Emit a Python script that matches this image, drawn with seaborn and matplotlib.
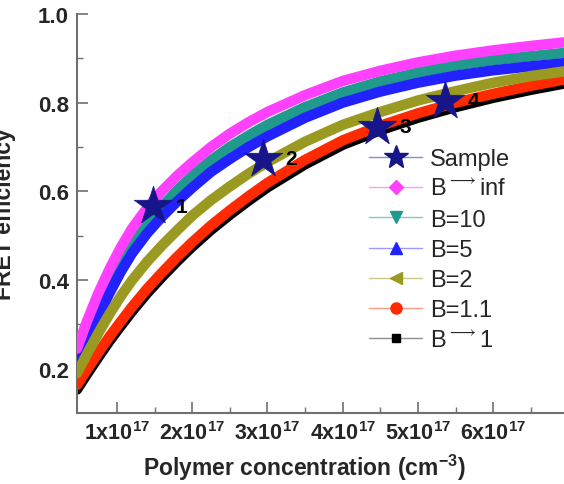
import matplotlib
matplotlib.use("Agg")
import matplotlib.pyplot as plt
from matplotlib.lines import Line2D
from matplotlib.ticker import FixedLocator
import seaborn as sns
import pandas as pd

# ---- data (x in units of 1e17 cm^-3) ----
conc = [0.47, 0.6, 0.75, 0.9, 1.05, 1.2, 1.4, 1.6, 1.8, 2.0, 2.25, 2.5, 2.75, 3.0,
        3.5, 4.0, 4.5, 5.0, 5.5, 6.0, 6.5, 7.0]
e_b_inf = [0.245, 0.306, 0.369, 0.424, 0.473, 0.516, 0.562, 0.601, 0.635, 0.665, 0.700,
           0.730, 0.756, 0.779, 0.817, 0.849, 0.872, 0.891, 0.906, 0.918, 0.928, 0.937]
e_b10 = [0.210, 0.268, 0.330, 0.385, 0.434, 0.477, 0.525, 0.566, 0.602, 0.635, 0.670,
         0.700, 0.726, 0.750, 0.790, 0.823, 0.848, 0.868, 0.884, 0.896, 0.905, 0.913]
e_b5 = [0.200, 0.256, 0.316, 0.370, 0.418, 0.460, 0.505, 0.543, 0.577, 0.608, 0.644,
        0.673, 0.700, 0.724, 0.766, 0.800, 0.825, 0.845, 0.861, 0.873, 0.882, 0.890]
e_b2 = [0.190, 0.232, 0.279, 0.323, 0.363, 0.399, 0.441, 0.478, 0.512, 0.545, 0.580,
        0.611, 0.640, 0.666, 0.712, 0.750, 0.779, 0.805, 0.826, 0.845, 0.860, 0.872]
e_b11 = [0.163, 0.197, 0.235, 0.272, 0.306, 0.339, 0.380, 0.417, 0.452, 0.485, 0.523,
         0.557, 0.589, 0.619, 0.671, 0.715, 0.748, 0.776, 0.800, 0.820, 0.838, 0.854]
e_b1 = [0.153, 0.187, 0.225, 0.262, 0.296, 0.329, 0.370, 0.407, 0.442, 0.475, 0.513,
        0.547, 0.579, 0.609, 0.661, 0.705, 0.738, 0.766, 0.790, 0.811, 0.829, 0.845]

sample_x = [1.48, 2.94, 4.46, 5.36]
sample_y = [0.566, 0.674, 0.746, 0.804]
sample_labels = ["1", "2", "3", "4"]

xtick_vals = [1, 2, 3, 4, 5, 6]
xtick_labels = [r"1x10$^{\mathbf{17}}$", r"2x10$^{\mathbf{17}}$", r"3x10$^{\mathbf{17}}$",
                r"4x10$^{\mathbf{17}}$", r"5x10$^{\mathbf{17}}$", r"6x10$^{\mathbf{17}}$"]
ytick_vals = [0.2, 0.4, 0.6, 0.8, 1.0]
ytick_labels = ["0.2", "0.4", "0.6", "0.8", "1.0"]

series_names = [r"B$^{\longrightarrow}$inf", "B=10", "B=5", "B=2", "B=1.1",
                r"B$^{\longrightarrow}$1"]
series_vals = [e_b_inf, e_b10, e_b5, e_b2, e_b11, e_b1]
colors = ["#ff40ff", "#1f9a8c", "#2222ff", "#9a9a22", "#ff2a00", "#000000"]
light_colors = ["#ff9cff", "#86c6bd", "#9a9aff", "#c8c88a", "#ff9a88", "#909090"]
markers = ["D", "v", "^", "<", "o", "s"]
msizes = [7, 8, 8, 8, 8, 6]

sns.set_theme(style="ticks")
plt.rcParams["font.family"] = ["Liberation Sans", "DejaVu Sans"]
plt.rcParams["mathtext.fontset"] = "custom"
plt.rcParams["mathtext.rm"] = "Liberation Sans"
plt.rcParams["mathtext.bf"] = "Liberation Sans:bold"

fig = plt.figure(figsize=(5.64, 4.85), dpi=100)
ax = fig.add_axes([77 / 564, 1 - 414 / 485, 1 - 77 / 564, (414 - 15) / 485])

# draw curves (bottom first): B->1, B=1.1, B=10, B=5, B=2, B->inf
order = [5, 4, 1, 2, 3, 0]
for k, i in enumerate(order):
    df = pd.DataFrame({"x": conc, "y": series_vals[i]})
    sns.lineplot(data=df, x="x", y="y", ax=ax, color=colors[i], linewidth=7.5,
                 estimator=None, sort=True, zorder=2 + k)

star_col = "#16168a"
sdf = pd.DataFrame({"x": sample_x, "y": sample_y})
sns.scatterplot(data=sdf, x="x", y="y", ax=ax, marker="*", s=850, color=star_col,
                edgecolor=star_col, linewidth=0.5, zorder=10)
for sx, sy, lab in zip(sample_x, sample_y, sample_labels):
    ax.annotate(lab, (sx, sy), xytext=(16, 0), textcoords="offset points",
                fontsize=15, fontweight="bold", color="black", va="center", ha="left",
                zorder=11)

ax.set_xlim(0.47, 6.94)
ax.set_ylim(0.1, 1.0)
ax.set_xticks(xtick_vals)
ax.set_xticklabels(xtick_labels, fontsize=15.5, fontweight="bold")
ax.set_yticks(ytick_vals)
ax.set_yticklabels(ytick_labels, fontsize=16, fontweight="bold")
ax.xaxis.set_minor_locator(FixedLocator([1.5, 2.5, 3.5, 4.5, 5.5, 6.5]))
ax.yaxis.set_minor_locator(FixedLocator([0.3, 0.5, 0.7, 0.9]))

spine_col = "#707070"
for s in ["top", "right"]:
    ax.spines[s].set_visible(False)
for s in ["left", "bottom"]:
    ax.spines[s].set_color(spine_col)
    ax.spines[s].set_linewidth(1.5)
ax.tick_params(which="major", direction="in", length=8, width=1.2, color=spine_col)
ax.tick_params(which="minor", direction="in", length=4, width=1.0, color=spine_col)
ax.tick_params(axis="y", which="major", pad=6)
ax.tick_params(axis="x", which="major", pad=5.5)

ax.set_xlabel(r"Polymer concentration (cm$^{\mathbf{-3}}$)", fontsize=16.5, fontweight="bold")
ax.xaxis.set_label_coords(0.466, -0.098)
ax.set_ylabel("FRET efficiency", fontsize=16.5, fontweight="bold")
ax.yaxis.set_label_coords(-0.125, 0.5)

# legend
handles = [Line2D([0], [0], color="#8a8ad0", lw=1, marker="*", markersize=18,
                  markerfacecolor=star_col, markeredgecolor=star_col)]
for i in range(6):
    handles.append(Line2D([0], [0], color=light_colors[i], lw=1, marker=markers[i],
                          markersize=msizes[i], markerfacecolor=colors[i],
                          markeredgecolor=colors[i]))
labels = ["Sample"] + series_names
leg = fig.legend(handles, labels, loc="upper left", bbox_to_anchor=(369 / 564, 1 - 149 / 485),
                 frameon=False, fontsize=17, handlelength=2.25, handletextpad=0.35,
                 labelspacing=0.35, borderpad=0, borderaxespad=0)
for t in leg.get_texts():
    t.set_fontweight("normal")

fig.savefig("out.png", dpi=100)
